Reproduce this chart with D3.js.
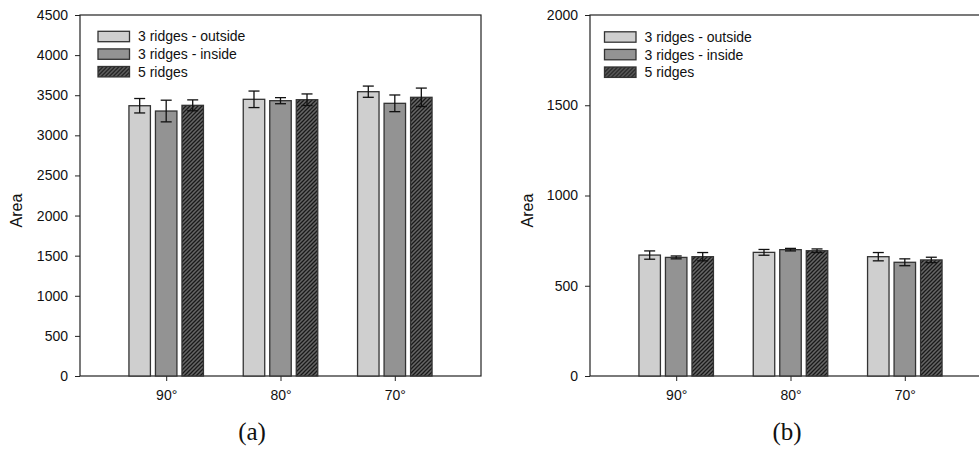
<!DOCTYPE html>
<html>
<head>
<meta charset="utf-8">
<script src="https://cdn.jsdelivr.net/npm/d3@7"></script>
<style>
  body { margin: 0; background: #fff; }
  svg { display: block; }
  text { font-family: "Liberation Sans", Arial, sans-serif; fill: #111; }
</style>
</head>
<body>
<div id="viz"></div>
<script>
const width = 979;
const height = 449;

// categories and series
const categories = ['90°', '80°', '70°'];
const seriesNames = ['3 ridges - outside', '3 ridges - inside', '5 ridges'];

// panel (a) means and error bars
const aOutside = [3369, 3449, 3544];
const aInside = [3303, 3432, 3399];
const aFive = [3374, 3444, 3474];
const aOutsideErr = [90, 103, 70];
const aInsideErr = [135, 38, 104];
const aFiveErr = [68, 72, 115];
const aTicks = [0, 500, 1000, 1500, 2000, 2500, 3000, 3500, 4000, 4500];

// panel (b) means and error bars
const bOutside = [670, 685, 661];
const bInside = [657, 700, 630];
const bFive = [661, 694, 643];
const bOutsideErr = [23, 16, 23];
const bInsideErr = [8, 7, 19];
const bFiveErr = [23, 10, 15];
const bTicks = [0, 500, 1000, 1500, 2000];

const fills = ['#cfcfcf', '#939393', 'url(#hatch)'];

const svg = d3.select('#viz')
    .append('svg')
        .attr('width', width)
        .attr('height', height);

// hatch for "5 ridges"
const pat = svg.append('defs')
    .append('pattern')
        .attr('id', 'hatch')
        .attr('patternUnits', 'userSpaceOnUse')
        .attr('width', 4)
        .attr('height', 4);
pat.append('rect')
    .attr('width', 4)
    .attr('height', 4)
    .attr('fill', '#666');
pat.append('path')
    .attr('d', 'M-1,1 l2,-2 M0,4 l4,-4 M3,5 l2,-2')
    .attr('stroke', '#1a1a1a')
    .attr('stroke-width', 1.3);

drawPanel({
    left: 80, right: 481, top: 15, bottom: 376,
    yMax: 4500, ticks: aTicks,
    means: [aOutside, aInside, aFive],
    errs: [aOutsideErr, aInsideErr, aFiveErr],
    legendX: 98, legendY: 36.5,
    yLabelX: 22, label: '(a)', labelX: 252
});

drawPanel({
    left: 590, right: 991, top: 15, bottom: 376,
    yMax: 2000, ticks: bTicks,
    means: [bOutside, bInside, bFive],
    errs: [bOutsideErr, bInsideErr, bFiveErr],
    legendX: 604.5, legendY: 37,
    yLabelX: 533, label: '(b)', labelX: 787
});

function drawPanel(p) {

    const xScale = d3.scalePoint()
        .domain(categories)
        .range([p.left, p.right])
        .padding(0.754);

    const inner = d3.scaleBand()
        .domain(seriesNames)
        .range([-37.25, 37.25])
        .paddingInner(0.19);

    const yScale = d3.scaleLinear()
        .domain([0, p.yMax])
        .range([p.bottom, p.top]);

    // frame
    svg.append('rect')
        .attr('x', p.left)
        .attr('y', p.top)
        .attr('width', p.right - p.left)
        .attr('height', p.bottom - p.top)
        .attr('fill', 'none')
        .attr('stroke', '#222')
        .attr('stroke-width', 1.2);

    const yAxis = svg.append('g')
        .attr('transform', `translate(${p.left},0)`)
        .call(d3.axisLeft(yScale).tickValues(p.ticks).tickSize(5).tickPadding(7).tickFormat(d3.format('d')));
    yAxis.select('.domain').remove();
    yAxis.selectAll('line').attr('stroke', '#222');
    yAxis.selectAll('text').style('font-size', '14px').style('font-family', '"Liberation Sans", Arial, sans-serif').attr('fill', '#111');

    const xAxis = svg.append('g')
        .attr('transform', `translate(0,${p.bottom})`)
        .call(d3.axisBottom(xScale).tickSize(5).tickPadding(9));
    xAxis.select('.domain').remove();
    xAxis.selectAll('line').attr('stroke', '#222');
    xAxis.selectAll('text').style('font-size', '14px').style('font-family', '"Liberation Sans", Arial, sans-serif').attr('fill', '#111');

    // bars
    seriesNames.forEach((s, si) => {
        const rows = categories.map((c, ci) => ({ c: c, v: p.means[si][ci], e: p.errs[si][ci] }));

        svg.append('g')
            .selectAll('rect')
            .data(rows)
            .join('rect')
                .attr('x', d => xScale(d.c) + inner(s))
                .attr('y', d => yScale(d.v))
                .attr('width', inner.bandwidth())
                .attr('height', d => yScale(0) - yScale(d.v))
                .attr('fill', fills[si])
                .attr('stroke', '#333')
                .attr('stroke-width', 1.3);

        const eb = svg.append('g')
            .attr('stroke', '#111')
            .attr('stroke-width', 1.3)
            .selectAll('g')
            .data(rows)
            .join('g')
                .attr('transform', d => `translate(${xScale(d.c) + inner(s) + inner.bandwidth() / 2},0)`);
        eb.append('line')
            .attr('y1', d => yScale(d.v + d.e))
            .attr('y2', d => yScale(d.v - d.e));
        eb.append('line')
            .attr('x1', -5.5).attr('x2', 5.5)
            .attr('y1', d => yScale(d.v + d.e))
            .attr('y2', d => yScale(d.v + d.e));
        eb.append('line')
            .attr('x1', -5.5).attr('x2', 5.5)
            .attr('y1', d => yScale(d.v - d.e))
            .attr('y2', d => yScale(d.v - d.e));
    });

    // legend
    const legend = svg.append('g')
        .selectAll('g')
        .data(seriesNames)
        .join('g')
            .attr('transform', (d, i) => `translate(${p.legendX},${p.legendY + i * 17.6})`);
    legend.append('rect')
        .attr('x', 0)
        .attr('y', -5.2)
        .attr('width', 31.5)
        .attr('height', 10.4)
        .attr('fill', (d, i) => fills[i])
        .attr('stroke', '#333')
        .attr('stroke-width', 1.3);
    legend.append('text')
        .attr('x', 40)
        .attr('dy', '0.35em')
        .style('font-size', '14px')
        .text(d => d);

    svg.append('text')
        .attr('transform', `translate(${p.yLabelX},${(p.top + p.bottom) / 2 + 15}) rotate(-90)`)
        .attr('text-anchor', 'middle')
        .style('font-size', '16px')
        .text('Area');

    svg.append('text')
        .attr('x', p.labelX)
        .attr('y', 440)
        .attr('text-anchor', 'middle')
        .style('font-family', '"Liberation Serif", "Times New Roman", serif')
        .style('font-size', '25px')
        .text(p.label);
}
</script>
</body>
</html>
